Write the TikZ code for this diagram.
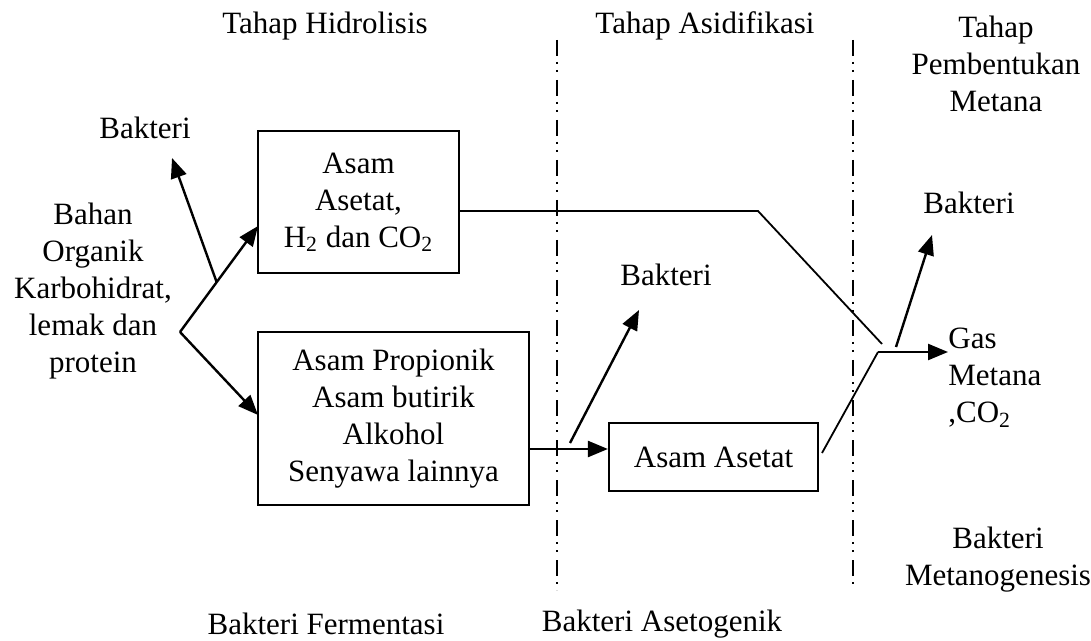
\documentclass[tikz,border=0pt]{standalone}
\usepackage{fontspec}
\setmainfont{Liberation Serif}
\usetikzlibrary{arrows.meta}
\begin{document}
\begin{tikzpicture}[x=0.5pt,y=-0.5pt,
  every node/.style={font=\fontsize{15.5pt}{18.5pt}\selectfont, inner sep=0pt, align=center},
  box/.style={draw, line width=1.1pt},
  arr/.style={line width=1.2pt, -{Triangle[length=10pt,width=8pt]}},
  link/.style={line width=0.9pt},
  stageline/.style={line width=0.8pt, dash pattern=on 8pt off 3pt on 1pt off 3pt on 1pt off 4pt}]
\useasboundingbox (0,0) rectangle (1091,641);
% stage labels
\node (th) at (325,26) {Tahap Hidrolisis};
\node (ta) at (705,26) {Tahap Asidifikasi};
\node (tm) at (996,64) {Tahap\\Pembentukan\\Metana};
% stage separators
\coordinate (s1t) at (557,40); \coordinate (s1b) at (557,590);
\coordinate (s2t) at (853,40); \coordinate (s2b) at (853,585);
\draw[stageline] (s1t) -- (s1b);
\draw[stageline] (s2t) -- (s2b);
% left material
\node (src) at (93,291) {Bahan\\Organik\\Karbohidrat,\\lemak dan\\protein};
\coordinate (fork) at (180,332);
% boxes
\node[box, minimum width=100.5pt, minimum height=71pt] (box1) at (358.5,202) {Asam\\Asetat,\\H\textsubscript{2} dan CO\textsubscript{2}};
\node[box, minimum width=135.5pt, minimum height=86.5pt] (box2) at (393.5,418.5) {Asam Propionik\\Asam butirik\\Alkohol\\Senyawa lainnya};
\node[box, minimum width=104.5pt, minimum height=34pt] (box3) at (713.5,457) {Asam Asetat};
% bacteria labels
\node (bak1) at (145,128) {Bakteri};
\node (bak2) at (666,275) {Bakteri};
\node (bak3) at (969,203) {Bakteri};
\node[anchor=west, align=left] (gas) at (948,378) {Gas\\Metana\\,CO\textsubscript{2}};
\node (bmet) at (998,560) {Bakteri\\Metanogenesis};
\node (bfer) at (326,624) {Bakteri Fermentasi};
\node (base) at (662,624) {Bakteri Asetogenik};
% fork arrows
\coordinate (t1) at (258,226);
\coordinate (t2) at (258,415);
\draw[arr] (fork) -- (t1);
\draw[arr] (fork) -- (t2);
\path (fork) -- (t1) coordinate[pos=0.47] (b1);
\coordinate (b1tip) at (172,158);
\draw[arr] (b1) -- (b1tip);
% box1 to junction
\coordinate (e1) at (box1.east |- 0,211);
\coordinate (k1) at (758,211);
\coordinate (k2) at (882,344);
\draw[link] (e1) -- (k1) -- (k2);
% box2 to box3
\coordinate (e2) at (box2.east |- 0,449);
\coordinate (w3) at (box3.west |- 0,449);
\draw[arr] (e2) -- (w3);
\coordinate (b2s) at (570,443);
\coordinate (b2tip) at (639,310);
\draw[arr] (b2s) -- (b2tip);
% box3 to junction
\coordinate (e3) at (822,453);
\coordinate (j) at (878,352);
\draw[link] (e3) -- (j);
\draw[arr] (j) -- (gas.west |- j);
\coordinate (b3s) at (896,347);
\coordinate (b3tip) at (932,235);
\draw[arr] (b3s) -- (b3tip);
\end{tikzpicture}
\end{document}
